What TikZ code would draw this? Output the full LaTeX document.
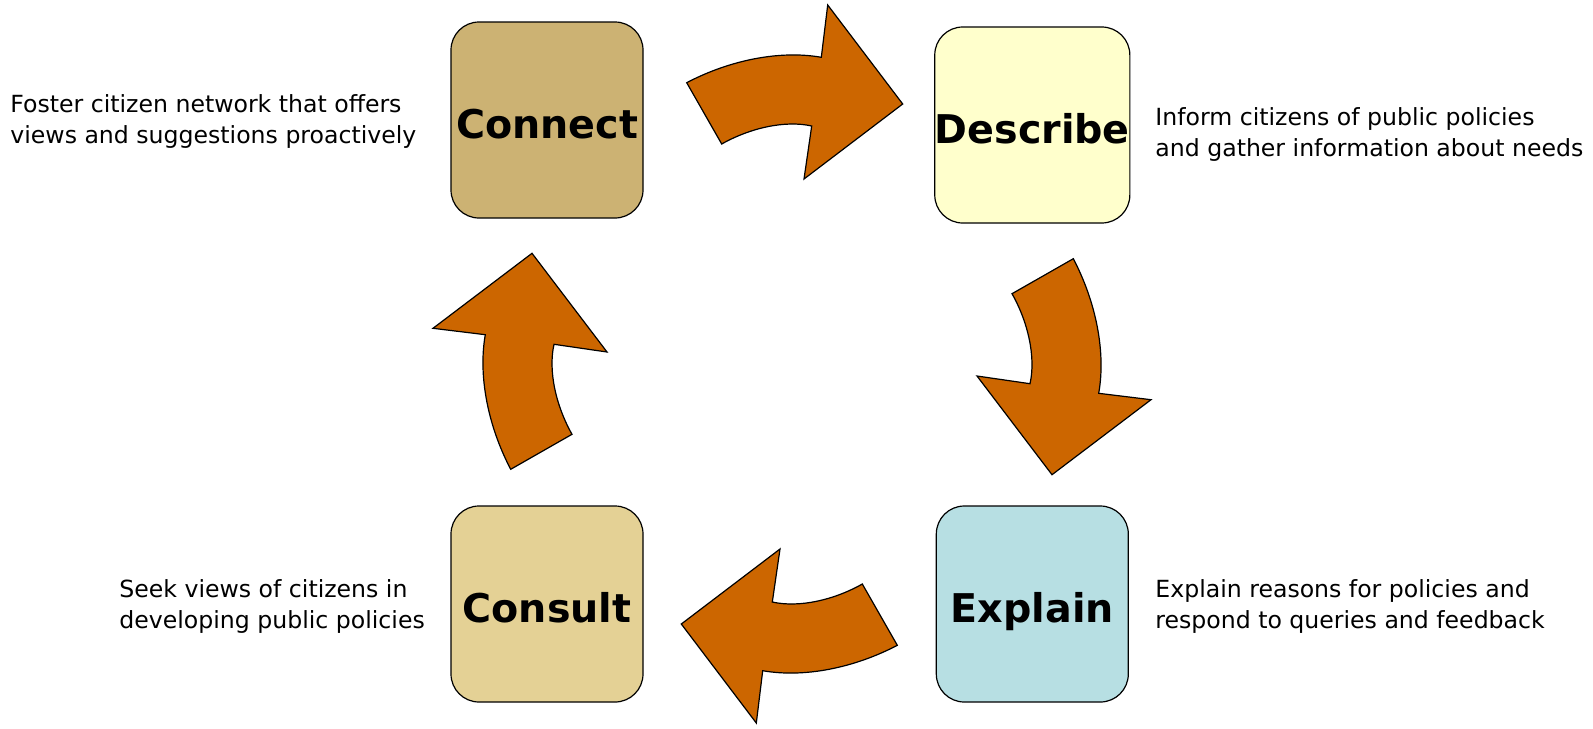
\documentclass[tikz,border=0pt]{standalone}
\usepackage{fontspec}
\setmainfont{DejaVu Sans}
\usepackage{xcolor}
\usepackage{tikz}
\usetikzlibrary{positioning}

\definecolor{connectfill}{HTML}{CCB273}
\definecolor{describefill}{HTML}{FFFFCC}
\definecolor{consultfill}{HTML}{E4D195}
\definecolor{explainfill}{HTML}{B7DFE3}
\definecolor{arrowfill}{HTML}{CC6600}

\begin{document}
\begin{tikzpicture}[
    x=0.5pt, y=-0.5pt,
    stage/.style={
        rectangle,
        rounded corners=14pt,
        draw=black,
        line width=0.6pt,
        minimum width=96pt,
        minimum height=98pt,
        inner sep=0pt,
        text height=18.5pt,
        text depth=0pt,
        font=\fontsize{19.8}{24}\selectfont\bfseries
    },
    note/.style={
        align=left,
        anchor=base west,
        inner sep=0pt,
        font=\fontsize{11.8}{15.25}\selectfont
    },
    turnarrow/.style={
        fill=arrowfill,
        draw=black,
        line width=0.6pt,
        line join=miter
    }
]
    % keep the page the size of the original
    \useasboundingbox (0,0) rectangle (1593,728);

    % curved arrows, one quarter turn each around the middle
    \begin{scope}[shift={(792,364)}]
        \foreach \ang in {0,-90,180,90} {
            \draw[turnarrow, rotate=\ang]
                (-105.3,-281.3) .. controls (-62,-304) and (-12,-314) .. (29.3,-306.7)
                -- (35.7,-359) -- (110.7,-260) -- (12,-185) -- (19.7,-238)
                .. controls (-7,-244) and (-42,-236) .. (-70.3,-220) -- cycle;
        }
    \end{scope}

    % stage boxes
    \node[stage, fill=connectfill] (connect) at (547,120) {Connect};
    \node[stage, fill=describefill] (describe) at (1032.3,125) {Describe};
    \node[stage, fill=explainfill] (explain) at (1032.3,604) {Explain};
    \node[stage, fill=consultfill] (consult) at (547,604) {Consult};

    % descriptions (base = last line)
    \node[note] (connectnote) at (10,143) {Foster citizen network that offers\\views and suggestions proactively};
    \node[note] (describenote) at (1155,156) {Inform citizens of public policies\\and gather information about needs};
    \node[note] (explainnote) at (1155,628) {Explain reasons for policies and\\respond to queries and feedback};
    \node[note] (consultnote) at (119,628) {Seek views of citizens in\\developing public policies};

\end{tikzpicture}
\end{document}
